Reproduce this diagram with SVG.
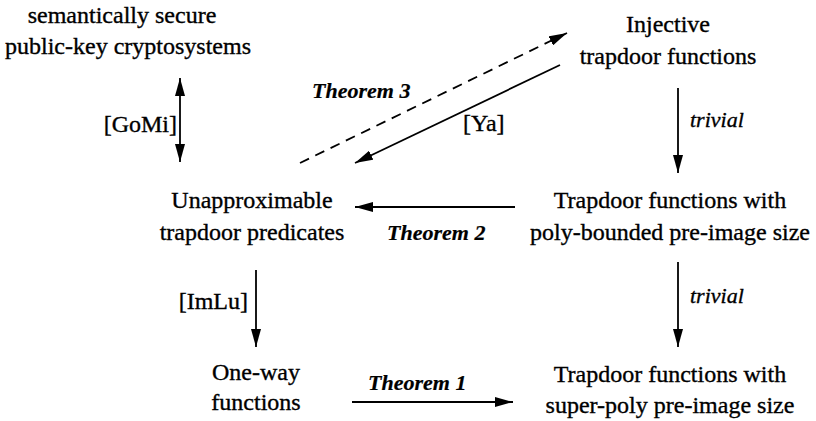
<svg xmlns="http://www.w3.org/2000/svg" width="816" height="421" viewBox="0 0 816 421">
<style>
text{font-family:"Liberation Serif","Times New Roman",serif;fill:#000;stroke:#000;stroke-width:0.35}
.n{font-size:24px}
.th{font-size:22px;font-weight:bold;font-style:italic;stroke-width:0.2}
.tv{font-size:22px;font-style:italic}
.c line{stroke:#000;stroke-width:1.8;fill:none}
.c .d{stroke-dasharray:10 7}
</style>
<defs>
<marker id="ah" viewBox="0 0 18 10" refX="18" refY="5" markerWidth="18" markerHeight="10" markerUnits="userSpaceOnUse" orient="auto-start-reverse">
<path d="M0,0 L18,5 L0,10 z" fill="#000"/>
</marker>
</defs>
<rect width="816" height="421" fill="#fff"/>
<g id="pkc">
<text class="n" x="122" y="23" text-anchor="middle">semantically secure</text>
<text class="n" x="128" y="54" text-anchor="middle">public-key cryptosystems</text>
</g>
<g id="itf">
<text class="n" x="668" y="32" text-anchor="middle">Injective</text>
<text class="n" x="668" y="64" text-anchor="middle">trapdoor  functions</text>
</g>
<g id="utp">
<text class="n" x="252" y="208" text-anchor="middle">Unapproximable</text>
<text class="n" x="252" y="240" text-anchor="middle">trapdoor  predicates</text>
</g>
<g id="tfpb">
<text class="n" x="670" y="208" text-anchor="middle">Trapdoor functions with</text>
<text class="n" x="670" y="240" text-anchor="middle">poly-bounded pre-image size</text>
</g>
<g id="owf">
<text class="n" x="256" y="380" text-anchor="middle">One-way</text>
<text class="n" x="256" y="410" text-anchor="middle">functions</text>
</g>
<g id="tfsp">
<text class="n" x="670" y="382" text-anchor="middle">Trapdoor functions with</text>
<text class="n" x="670" y="413" text-anchor="middle">super-poly pre-image size</text>
</g>
<g id="connectors" class="c">
<line x1="180" y1="78" x2="180" y2="162" marker-start="url(#ah)" marker-end="url(#ah)"/>
<line class="d" x1="300" y1="163" x2="567" y2="33" marker-end="url(#ah)"/>
<line x1="560" y1="65" x2="355" y2="163" marker-end="url(#ah)"/>
<line x1="678" y1="88" x2="678" y2="173" marker-end="url(#ah)"/>
<line x1="515" y1="207" x2="355" y2="207" marker-end="url(#ah)"/>
<line x1="256" y1="270" x2="256" y2="347" marker-end="url(#ah)"/>
<line x1="678" y1="262" x2="678" y2="347" marker-end="url(#ah)"/>
<line x1="352" y1="402" x2="513" y2="402" marker-end="url(#ah)"/>
</g>
<g id="labels">
<text class="n" x="177" y="132" text-anchor="end">[GoMi]</text>
<text class="th" x="312" y="98">Theorem 3</text>
<text class="n" x="463" y="131">[Ya]</text>
<text class="tv" x="690" y="127">trivial</text>
<text class="th" x="387" y="240">Theorem 2</text>
<text class="n" x="248" y="309" text-anchor="end">[ImLu]</text>
<text class="tv" x="690" y="303">trivial</text>
<text class="th" x="368" y="390">Theorem 1</text>
</g>
</svg>
